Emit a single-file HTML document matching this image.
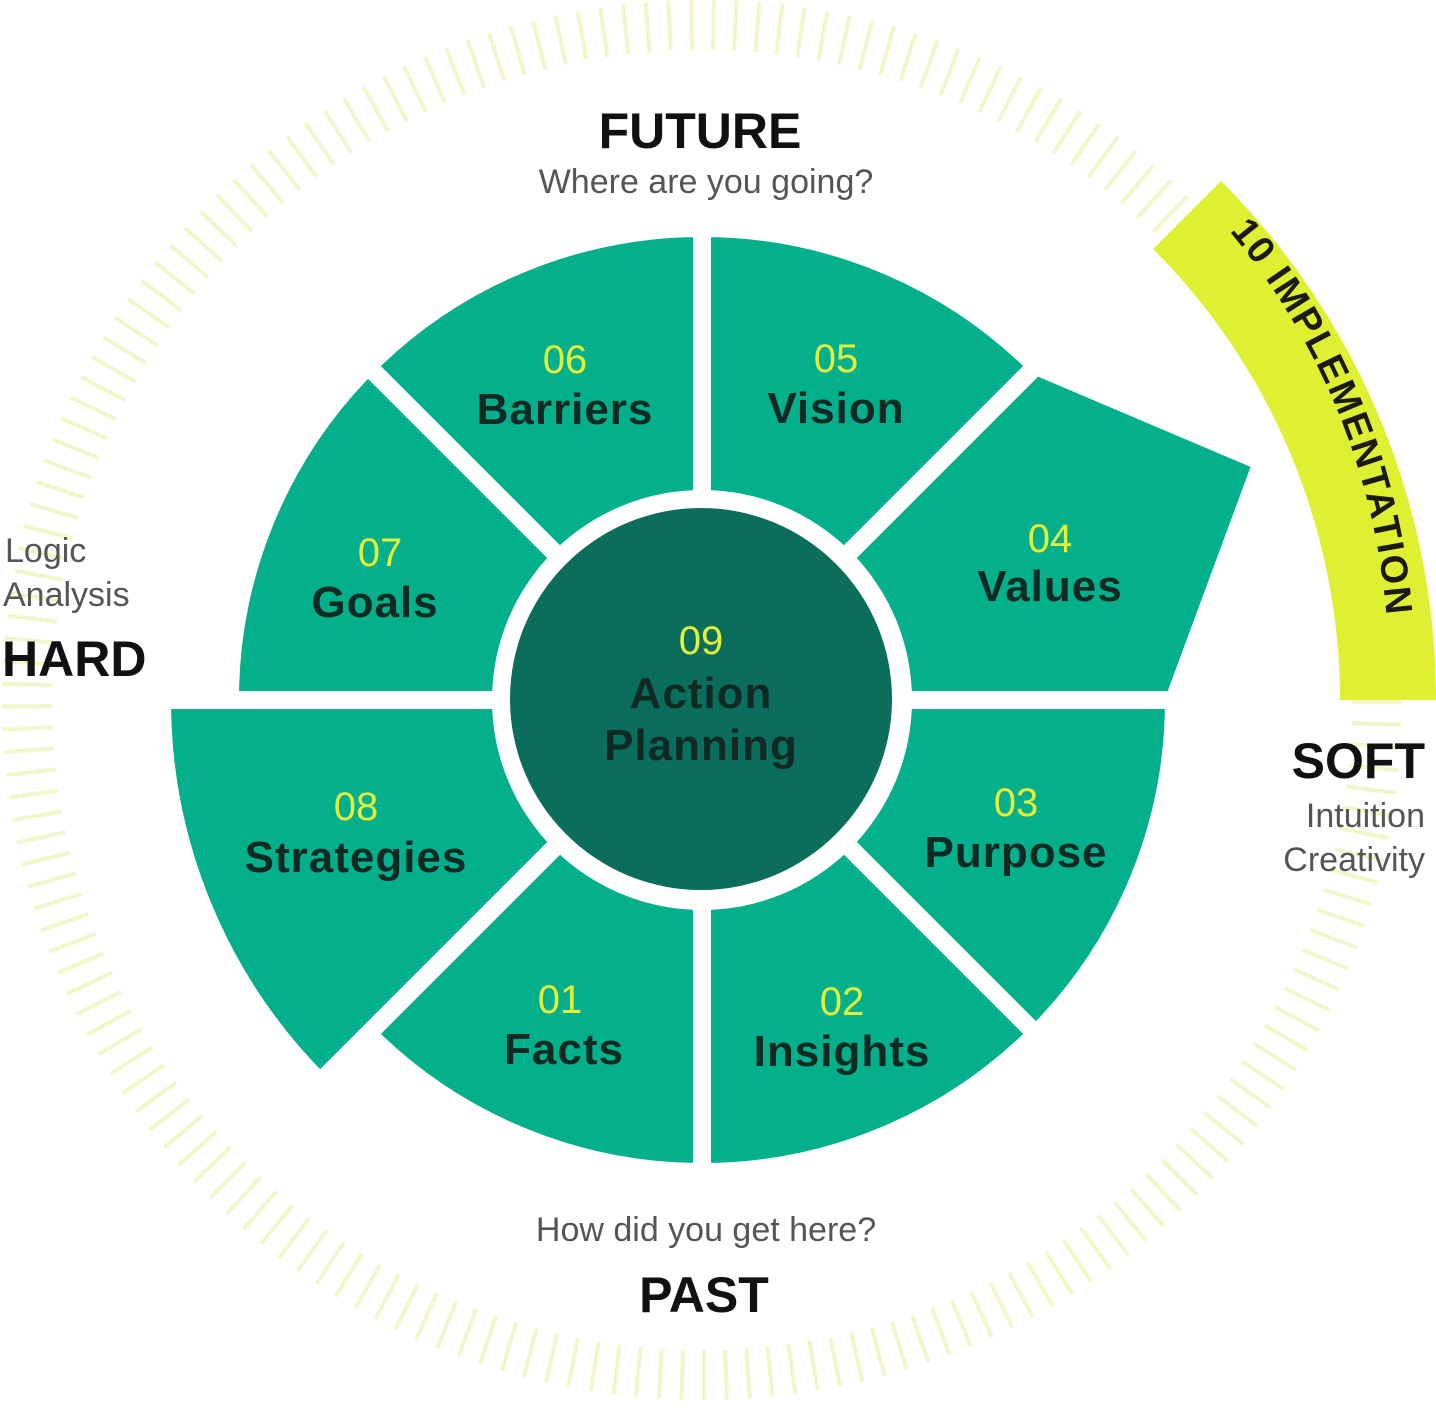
<!DOCTYPE html>
<html><head><meta charset="utf-8"><style>
html,body{margin:0;padding:0;background:#fff;}
svg{display:block;}
text{font-family:"Liberation Sans",sans-serif;}
.n{fill:#e4ef3a;font-size:40px;text-anchor:middle;}
.l{fill:#0e2a22;font-size:44px;font-weight:bold;text-anchor:middle;letter-spacing:1px;}
.g{fill:#555;font-size:34px;}
.b{fill:#111;font-size:50px;font-weight:bold;}
</style></head><body>
<svg width="1436" height="1412" viewBox="0 0 1436 1412" xmlns="http://www.w3.org/2000/svg">
<circle cx="702" cy="700" r="675" fill="none" stroke="#f2f6c8" stroke-width="50" stroke-dasharray="4 18"/>
<path d="M1340 700 A638 638 0 0 0 1153 249 L1221 181 A734 734 0 0 1 1436 700 Z" fill="#dff032"/>
<path id="ta" d="M1196 194 A686 686 0 0 1 1388 700" fill="none"/>
<text font-size="38" font-weight="bold" fill="#1a1a10" letter-spacing="2"><textPath href="#ta" startOffset="9%">10 IMPLEMENTATION</textPath></text>
<g fill="#03b08b" stroke="#fff" stroke-width="18" stroke-linejoin="miter">
<path d="M702 700 L702 228 A472 472 0 0 1 1036 366 Z"/>
<path d="M702 700 L1036 366 L1262 462 L1174 700 Z"/>
<path d="M702 700 L1174 700 A472 472 0 0 1 1036 1034 Z"/>
<path d="M702 700 L1036 1034 A472 472 0 0 1 702 1172 Z"/>
<path d="M702 700 L702 1172 A472 472 0 0 1 368 1034 Z"/>
<path d="M702 700 L320 1082 A540 540 0 0 1 162 700 Z"/>
<path d="M702 700 L230 700 A472 472 0 0 1 368 366 Z"/>
<path d="M702 700 L368 366 A472 472 0 0 1 702 228 Z"/>
</g>
<circle cx="702" cy="700" r="210" fill="#fff"/>
<circle cx="701" cy="699" r="191" fill="#0b6e5d"/>
<text class="n" x="701" y="654">09</text>
<text class="l" x="701" y="708">Action</text>
<text class="l" x="701" y="760">Planning</text>
<text class="n" x="565" y="373">06</text><text class="l" x="565" y="424">Barriers</text>
<text class="n" x="836" y="372">05</text><text class="l" x="836" y="423">Vision</text>
<text class="n" x="1050" y="552">04</text><text class="l" x="1050" y="601">Values</text>
<text class="n" x="380" y="566">07</text><text class="l" x="375" y="617">Goals</text>
<text class="n" x="356" y="820">08</text><text class="l" x="356" y="872">Strategies</text>
<text class="n" x="1016" y="816">03</text><text class="l" x="1016" y="867">Purpose</text>
<text class="n" x="560" y="1013">01</text><text class="l" x="564" y="1064">Facts</text>
<text class="n" x="842" y="1015">02</text><text class="l" x="842" y="1066">Insights</text>
<text class="b" x="700" y="148" text-anchor="middle">FUTURE</text>
<text class="g" x="706" y="193" text-anchor="middle">Where are you going?</text>
<text class="g" x="706" y="1241" text-anchor="middle">How did you get here?</text>
<text class="b" x="704" y="1312" text-anchor="middle">PAST</text>
<text class="g" x="5" y="562">Logic</text>
<text class="g" x="3" y="606">Analysis</text>
<text class="b" x="2" y="676">HARD</text>
<text class="b" x="1425" y="778" text-anchor="end">SOFT</text>
<text class="g" x="1425" y="827" text-anchor="end">Intuition</text>
<text class="g" x="1425" y="871" text-anchor="end">Creativity</text>
</svg>
</body></html>
